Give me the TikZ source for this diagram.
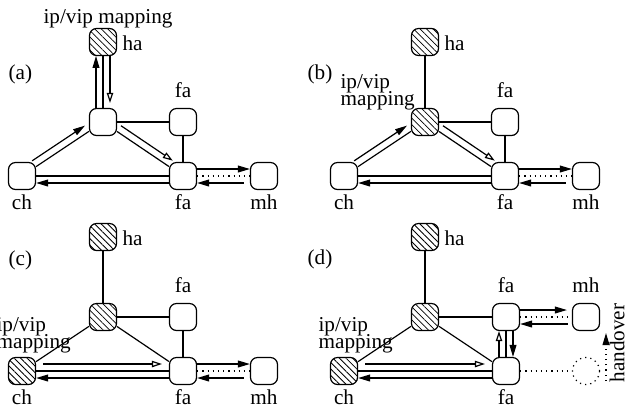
\documentclass[tikz,border=0pt]{standalone}
\usepackage{fontspec}
\setmainfont{Liberation Serif}
\usetikzlibrary{arrows.meta,patterns.meta,calc}
\begin{document}
\begin{tikzpicture}[x=0.5pt,y=-0.5pt,
  font=\fontsize{10.6}{12.5}\selectfont,
  line width=0.6pt,
  box/.style={draw,fill=white,rounded corners=3.5pt,minimum width=13.5pt,minimum height=13.5pt,inner sep=0pt},
  hatch/.style={box,preaction={fill=white},pattern={Lines[angle=-45,distance=2.3pt,line width=0.4pt]}},
  ghost/.style={draw,dotted,circle,minimum size=13.5pt,inner sep=0pt},
  lbl/.style={inner sep=0pt,anchor=base},
  lblw/.style={inner sep=0pt,anchor=base west},
  wl/.style={dotted},
  af/.style={-{Triangle[length=6pt,width=3.4pt]}},
  ao/.style={-{Triangle[open,length=5pt,width=3.2pt]}},
  offs/.style={transform canvas={shift={#1}}},
]
\path[use as bounding box,clip] (0,0) rectangle (626,409);

% ================= (a)
\node[hatch] (ha-a) at (103,42) {};
\node[box] (mid-a) at (103,122) {};
\node[box] (fat-a) at (183,122) {};
\node[box] (ch-a) at (22,176) {};
\node[box] (fab-a) at (183,176) {};
\node[box] (mh-a) at (264,176) {};
\node[lblw] (ta) at (8,79) {(a)};
\node[lbl] (map-a) at (108,23) {ip/vip mapping};
\node[lblw] (lha-a) at (122,50) {ha};
\node[lbl] (lfat-a) at (fat-a.north) [yshift=5pt,anchor=base] {fa};
\node[lbl] (lch-a) at (22,209) {ch};
\node[lbl] (lfab-a) at (183,209) {fa};
\node[lbl] (lmh-a) at (264,209) {mh};
\draw (mid-a) -- (ha-a);
\draw (mid-a) -- (fat-a);
\draw (fat-a) -- (fab-a);
\draw (ch-a) -- (mid-a);
\draw (mid-a) -- (fab-a);
\draw (ch-a) -- (fab-a);
\draw[wl] (fab-a) -- (mh-a);
\draw[af,offs={(-7,0)}] (mid-a) -- (ha-a);
\draw[ao,offs={(7,0)},shorten >=2.5pt] (ha-a) -- (mid-a);
\draw[af,offs={(-3.9,-5.8)}] (ch-a) -- (mid-a);
\draw[ao,offs={(3.9,-5.8)}] (mid-a) -- (fab-a);
\draw[af,offs={(0,7)}] (fab-a) -- (ch-a);
\draw[af,offs={(0,-7)}] (fab-a) -- (mh-a);
\draw[af,offs={(0,7)},shorten <=3pt] (mh-a) -- (fab-a);

% ================= (b)
\node[hatch] (ha-b) at (425,42) {};
\node[hatch] (mid-b) at (425,122) {};
\node[box] (fat-b) at (505,122) {};
\node[box] (ch-b) at (344,176) {};
\node[box] (fab-b) at (505,176) {};
\node[box] (mh-b) at (586,176) {};
\node[lblw] (tb) at (307,79) {(b)};
\node[lblw] (map1-b) at (340,88) {ip/vip};
\node[lblw] (map2-b) at (340,105) {mapping};
\node[lblw] (lha-b) at (444,50) {ha};
\node[lbl] (lfat-b) at (fat-b.north) [yshift=5pt,anchor=base] {fa};
\node[lbl] (lch-b) at (344,209) {ch};
\node[lbl] (lfab-b) at (505,209) {fa};
\node[lbl] (lmh-b) at (586,209) {mh};
\draw (mid-b) -- (ha-b);
\draw (mid-b) -- (fat-b);
\draw (fat-b) -- (fab-b);
\draw (ch-b) -- (mid-b);
\draw (mid-b) -- (fab-b);
\draw (ch-b) -- (fab-b);
\draw[wl] (fab-b) -- (mh-b);
\draw[af,offs={(-3.9,-5.8)}] (ch-b) -- (mid-b);
\draw[ao,offs={(3.9,-5.8)}] (mid-b) -- (fab-b);
\draw[af,offs={(0,7)}] (fab-b) -- (ch-b);
\draw[af,offs={(0,-7)}] (fab-b) -- (mh-b);
\draw[af,offs={(0,7)},shorten <=3pt] (mh-b) -- (fab-b);

% ================= (c)
\node[hatch] (ha-c) at (103,237) {};
\node[hatch] (mid-c) at (103,317) {};
\node[box] (fat-c) at (183,317) {};
\node[hatch] (ch-c) at (22,371) {};
\node[box] (fab-c) at (183,371) {};
\node[box] (mh-c) at (264,371) {};
\node[lblw] (tc) at (8,265) {(c)};
\node[lblw] (map1-c) at (-4,331) {ip/vip};
\node[lblw] (map2-c) at (-4,348) {mapping};
\node[lblw] (lha-c) at (122,245) {ha};
\node[lbl] (lfat-c) at (fat-c.north) [yshift=5pt,anchor=base] {fa};
\node[lbl] (lch-c) at (22,404) {ch};
\node[lbl] (lfab-c) at (183,404) {fa};
\node[lbl] (lmh-c) at (264,404) {mh};
\draw (mid-c) -- (ha-c);
\draw (mid-c) -- (fat-c);
\draw (fat-c) -- (fab-c);
\draw (ch-c) -- (mid-c);
\draw (mid-c) -- (fab-c);
\draw (ch-c) -- (fab-c);
\draw[wl] (fab-c) -- (mh-c);
\draw[ao,offs={(0,-7)},shorten <=3.5pt,shorten >=3.5pt] (ch-c) -- (fab-c);
\draw[af,offs={(0,7)}] (fab-c) -- (ch-c);
\draw[af,offs={(0,-7)}] (fab-c) -- (mh-c);
\draw[af,offs={(0,7)},shorten <=3pt] (mh-c) -- (fab-c);

% ================= (d)
\node[hatch] (ha-d) at (425,237) {};
\node[hatch] (mid-d) at (425,317) {};
\node[box] (fat-d) at (506,317) {};
\node[box] (mh-d) at (586,317) {};
\node[hatch] (ch-d) at (344,371) {};
\node[box] (fab-d) at (506,371) {};
\node[ghost] (gh-d) at (586,371) {};
\node[lblw] (td) at (307,264) {(d)};
\node[lblw] (map1-d) at (318,331) {ip/vip};
\node[lblw] (map2-d) at (318,348) {mapping};
\node[lblw] (lha-d) at (444,245) {ha};
\node[lbl] (lfat-d) at (fat-d.north) [yshift=5pt,anchor=base] {fa};
\node[lbl] (lmh-d) at (mh-d.north) [yshift=5pt,anchor=base] {mh};
\node[lbl] (lch-d) at (344,404) {ch};
\node[lbl] (lfab-d) at (506,404) {fa};
\node[lbl,rotate=90,anchor=center] (ho) at (617,343) {handover};
\coordinate (hos) at (606,381);
\coordinate (hoe) at (606,333);
\draw (mid-d) -- (ha-d);
\draw (mid-d) -- (fat-d);
\draw (fat-d) -- (fab-d);
\draw (ch-d) -- (mid-d);
\draw (mid-d) -- (fab-d);
\draw (ch-d) -- (fab-d);
\draw[wl] (fat-d) -- (mh-d);
\draw[wl] (fab-d) -- (gh-d);
\draw[wl,af] (hos) -- (hoe);
\draw[ao,offs={(0,-7)},shorten <=3.5pt,shorten >=3.5pt] (ch-d) -- (fab-d);
\draw[af,offs={(0,7)}] (fab-d) -- (ch-d);
\draw[ao,offs={(-7,0)}] (fab-d) -- (fat-d);
\draw[af,offs={(7,0)}] (fat-d) -- (fab-d);
\draw[af,offs={(0,-7)},shorten >=2.5pt] (fat-d) -- (mh-d);
\draw[af,offs={(0,7)},shorten <=2pt] (mh-d) -- (fat-d);
\end{tikzpicture}
\end{document}
